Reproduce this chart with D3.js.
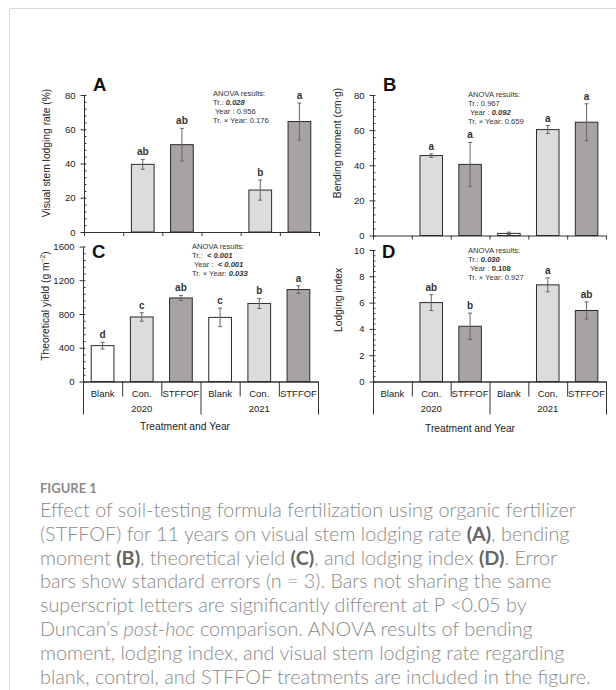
<!DOCTYPE html>
<html>
<head>
<meta charset="utf-8">
<script src="https://cdn.jsdelivr.net/npm/d3@7"></script>
<style>
  body { margin: 0; background: #fff; }
  svg { display: block; }
</style>
</head>
<body>
<div class="canvas"></div>
<script>
// categories and years
const categories = ['Blank', 'Con.', 'STFFOF', 'Blank', 'Con.', 'STFFOF']
const years = ['2020', '2021']

// A: visual stem lodging rate (%)
const lodgingRate = [null, 39.5, 51, null, 24.5, 64.5]
const lodgingRateErr = [null, 2.9, 9.5, null, 5.9, 10.8]
const lodgingRateLetters = ['', 'ab', 'ab', '', 'b', 'a']

// B: bending moment (cm·g)
const bendingMoment = [null, 45.5, 40.5, 1.2, 60.3, 64.5]
const bendingMomentErr = [null, 1, 12.5, 0.7, 2.3, 10.5]
const bendingMomentLetters = ['', 'a', 'a', '', 'a', 'a']

// C: theoretical yield (g m-2)
const theoreticalYield = [425, 765, 990, 760, 925, 1090]
const theoreticalYieldErr = [40, 50, 30, 110, 60, 45]
const theoreticalYieldLetters = ['d', 'c', 'ab', 'c', 'b', 'a']

// D: lodging index
const lodgingIndex = [null, 6.0, 4.2, null, 7.35, 5.4]
const lodgingIndexErr = [null, 0.6, 1.0, null, 0.53, 0.65]
const lodgingIndexLetters = ['', 'ab', 'b', '', 'a', 'ab']

// y tick labels
const ticksA = [0, 20, 40, 60, 80]
const ticksB = [0, 20, 40, 60, 80]
const ticksC = [0, 400, 800, 1200, 1600]
const ticksD = [0, 2, 4, 6, 8, 10]

// ANOVA boxes: [text, style] pieces per line
const anovaA = [[['ANOVA results:', '']], [['Tr.: ', ''], ['0.028', 'bi']], [[' Year : 0.956', '']], [['Tr. × Year: 0.176', '']]]
const anovaB = [[['ANOVA results:', '']], [['Tr.: 0.967', '']], [[' Year : ', ''], ['0.092', 'bi']], [['Tr. × Year: 0.659', '']]]
const anovaC = [[['ANOVA results:', '']], [['Tr.:  ', ''], ['< 0.001', 'bi']], [[' Year :  ', ''], ['< 0.001', 'bi']], [['Tr. × Year: ', ''], ['0.033', 'bi']]]
const anovaD = [[['ANOVA results:', '']], [['Tr.: ', ''], ['0.030', 'bi']], [[' Year : ', ''], ['0.108', 'b']], [['Tr. × Year: 0.927', '']]]

const captionTitle = 'FIGURE 1'
const captionLines = [
    [['Effect of soil-testing formula fertilization using organic fertilizer', '']],
    [['(STFFOF) for 11 years on visual stem lodging rate ', ''], ['(A)', 'b'], [', bending', '']],
    [['moment ', ''], ['(B)', 'b'], [', theoretical yield ', ''], ['(C)', 'b'], [', and lodging index ', ''], ['(D)', 'b'], ['. Error', '']],
    [['bars show standard errors (n = 3). Bars not sharing the same', '']],
    [['superscript letters are significantly different at P <0.05 by', '']],
    [['Duncan\u2019s ', ''], ['post-hoc', 'i'], [' comparison. ANOVA results of bending', '']],
    [['moment, lodging index, and visual stem lodging rate regarding', '']],
    [['blank, control, and STFFOF treatments are included in the figure.', '']]
]

const chartFont = "'Liberation Sans', Arial, sans-serif"
const fill = { 'Blank': '#ffffff', 'Con.': '#dcdcdc', 'STFFOF': '#a8a3a2' }

const svg = d3.select('.canvas').append('svg')
    .attr('width', 616)
    .attr('height', 690)

svg.append('rect').attr('width', 616).attr('height', 690).attr('fill', '#fff')

// outer frame (top and left)
svg.append('path')
    .attr('d', 'M9.5,690 V8.5 H616')
    .attr('fill', 'none')
    .attr('stroke', '#dadada')

const panels = [
    { label: 'A', values: lodgingRate, errors: lodgingRateErr, letters: lodgingRateLetters, ticks: ticksA, minor: 4,
      left: 84, right: 319, top: 95, bottom: 232, labelX: 93, labelY: 91,
      title: ['Visual stem lodging rate (%)'], titleX: 46, titleY: 153,
      anova: anovaA, anovaX: 213, anovaY: 96, multi: false },
    { label: 'B', values: bendingMoment, errors: bendingMomentErr, letters: bendingMomentLetters, ticks: ticksB, minor: 4,
      left: 373, right: 606, top: 95, bottom: 235.5, labelX: 383, labelY: 91,
      title: ['Bending moment (cm·g)'], titleX: 337, titleY: 143,
      anova: anovaB, anovaX: 468, anovaY: 96.5, multi: false },
    { label: 'C', values: theoreticalYield, errors: theoreticalYieldErr, letters: theoreticalYieldLetters, ticks: ticksC, minor: 80,
      left: 83, right: 318, top: 246.5, bottom: 381.5, labelX: 92, labelY: 258,
      title: ['Theoretical yield (g m', '−2', ')'], titleX: 45, titleY: 306,
      anova: anovaC, anovaX: 192, anovaY: 249, multi: true, xTitleX: 185, xTitleY: 430 },
    { label: 'D', values: lodgingIndex, errors: lodgingIndexErr, letters: lodgingIndexLetters, ticks: ticksD, minor: 0.4,
      left: 373, right: 606, top: 250, bottom: 381.5, labelX: 382, labelY: 258,
      title: ['Lodging index'], titleX: 338, titleY: 300,
      anova: anovaD, anovaX: 468, anovaY: 252.5, multi: true, xTitleX: 470, xTitleY: 432 }
]

function styled(sel, piece) {
    sel.append('tspan')
        .text(piece[0])
        .attr('font-weight', piece[1].includes('b') ? 'bold' : null)
        .attr('font-style', piece[1].includes('i') ? 'italic' : null)
}

panels.forEach((p) => {
    const g = svg.append('g')
        .attr('font-family', chartFont)

    const x = d3.scaleBand()
        .domain(d3.range(categories.length))
        .range([p.left, p.right])
    const xEdge = d3.scaleLinear()
        .domain([0, categories.length])
        .range([p.left, p.right])
    const yMax = p.ticks[p.ticks.length - 1]
    const y = d3.scaleLinear()
        .domain([0, yMax])
        .range([p.bottom, p.top])

    // minor ticks, then major ticks with labels
    g.append('g')
        .attr('transform', `translate(${p.left}, 0)`)
        .call(d3.axisRight(y)
            .tickValues(d3.range(0, yMax + 1e-9, p.minor))
            .tickSize(2.5)
            .tickSizeOuter(0)
            .tickFormat(''))
    const yAxis = g.append('g')
        .attr('transform', `translate(${p.left}, 0)`)
        .call(d3.axisLeft(y)
            .tickValues(p.ticks)
            .tickSize(3.5)
            .tickSizeOuter(0)
            .tickPadding(5)
            .tickFormat(d3.format('d')))
    yAxis.selectAll('text')
        .attr('font-size', 9.5)
        .attr('font-family', chartFont)
        .attr('fill', '#222')

    // category axis
    if (!p.multi) {
        g.append('g')
            .attr('transform', `translate(0, ${p.bottom})`)
            .call(d3.axisBottom(xEdge)
                .tickValues(d3.range(categories.length + 1))
                .tickSize(4)
                .tickSizeOuter(0)
                .tickFormat(''))
    } else {
        g.append('g')
            .attr('transform', `translate(0, ${p.bottom})`)
            .call(d3.axisBottom(xEdge)
                .tickValues([1, 2, 4, 5])
                .tickSize(15)
                .tickSizeOuter(0)
                .tickFormat(''))
        g.append('g')
            .attr('transform', `translate(0, ${p.bottom})`)
            .call(d3.axisBottom(xEdge)
                .tickValues([0, 3, 6])
                .tickSize(33)
                .tickSizeOuter(0)
                .tickFormat(''))

        g.selectAll('text.cat')
            .data(categories)
            .join('text')
            .attr('class', 'cat')
            .attr('x', (d, i) => x(i) + x.bandwidth() / 2)
            .attr('y', p.bottom + 15.5)
            .attr('text-anchor', 'middle')
            .attr('font-size', 9.5)
            .attr('fill', '#222')
            .text((d) => d)

        g.selectAll('text.year')
            .data(years)
            .join('text')
            .attr('class', 'year')
            .attr('x', (d, i) => xEdge(i * 3 + 1.5))
            .attr('y', p.bottom + 30.5)
            .attr('text-anchor', 'middle')
            .attr('font-size', 9.5)
            .attr('fill', '#222')
            .text((d) => d)

        g.append('text')
            .attr('x', p.xTitleX)
            .attr('y', p.xTitleY)
            .attr('text-anchor', 'middle')
            .attr('font-size', 10.3)
            .attr('fill', '#222')
            .text('Treatment and Year')
    }
    g.selectAll('.domain, .tick line').attr('stroke', '#333')

    const data = p.values
        .map((v, i) => ({ v, i, e: p.errors[i], l: p.letters[i] }))
        .filter((d) => d.v != null)

    // bars
    const bw = x.bandwidth() * 0.58
    g.selectAll('rect.bar')
        .data(data)
        .join('rect')
        .attr('class', 'bar')
        .attr('x', (d) => x(d.i) + (x.bandwidth() - bw) / 2)
        .attr('width', bw)
        .attr('y', (d) => y(d.v))
        .attr('height', (d) => y(0) - y(d.v))
        .attr('fill', (d) => fill[categories[d.i]])
        .attr('stroke', '#2b2b2b')
        .attr('stroke-width', 1)

    // error bars
    const cx = (d) => x(d.i) + x.bandwidth() / 2
    const err = g.selectAll('g.err')
        .data(data)
        .join('g')
        .attr('class', 'err')
        .attr('stroke', '#666')
        .attr('stroke-width', 1)
    err.append('line')
        .attr('x1', cx).attr('x2', cx)
        .attr('y1', (d) => y(d.v - d.e))
        .attr('y2', (d) => y(d.v + d.e))
    err.append('line')
        .attr('x1', (d) => cx(d) - 2).attr('x2', (d) => cx(d) + 2)
        .attr('y1', (d) => y(d.v + d.e)).attr('y2', (d) => y(d.v + d.e))
    err.append('line')
        .attr('x1', (d) => cx(d) - 2).attr('x2', (d) => cx(d) + 2)
        .attr('y1', (d) => y(d.v - d.e)).attr('y2', (d) => y(d.v - d.e))

    // significance letters
    g.selectAll('text.sig')
        .data(data.filter((d) => d.l))
        .join('text')
        .attr('class', 'sig')
        .attr('x', cx)
        .attr('y', (d) => y(d.v + d.e) - 4)
        .attr('text-anchor', 'middle')
        .attr('font-size', 10)
        .attr('font-weight', 'bold')
        .attr('fill', '#333')
        .text((d) => d.l)

    // panel letter
    g.append('text')
        .attr('x', p.labelX)
        .attr('y', p.labelY)
        .attr('font-size', 18.5)
        .attr('font-weight', 'bold')
        .attr('fill', '#111')
        .text(p.label)

    // y title
    const yt = g.append('text')
        .attr('transform', `translate(${p.titleX}, ${p.titleY}) rotate(-90)`)
        .attr('text-anchor', 'middle')
        .attr('dy', '0.35em')
        .attr('font-size', 10.3)
        .attr('fill', '#222')
    yt.append('tspan').text(p.title[0])
    if (p.title.length > 1) {
        yt.append('tspan').text(p.title[1]).attr('font-size', 6.8).attr('dy', -4)
        yt.append('tspan').text(p.title[2]).attr('dy', 4)
    }

    // ANOVA results
    const an = g.append('text')
        .attr('font-size', 7.6)
        .attr('fill', '#333')
        .style('white-space', 'pre')
    p.anova.forEach((line, k) => {
        const row = an.append('tspan')
            .attr('x', p.anovaX)
            .attr('y', p.anovaY + k * 9)
        line.forEach((piece) => styled(row, piece))
    })
})

// caption
const cap = svg.append('g')
    .attr('font-family', "Lato, 'Open Sans', sans-serif")
    .attr('fill', '#8a8a8a')

cap.append('text')
    .attr('x', 40)
    .attr('y', 493)
    .attr('font-size', 13)
    .attr('font-weight', 'bold')
    .text(captionTitle)

const body = cap.append('text')
    .attr('font-size', 17)
    .attr('font-weight', 300)
    .style('white-space', 'pre')
captionLines.forEach((line, k) => {
    const row = body.append('tspan')
        .attr('x', 40)
        .attr('y', 517 + k * 23.8)
    line.forEach((piece) => styled(row, piece))
})
body.selectAll('tspan[font-weight="bold"]').attr('fill', '#666')
// fit first line width to the reference
const w0 = body.select('tspan').node().getComputedTextLength()
body.attr('font-size', 17 * 536 / w0)
</script>
</body>
</html>
